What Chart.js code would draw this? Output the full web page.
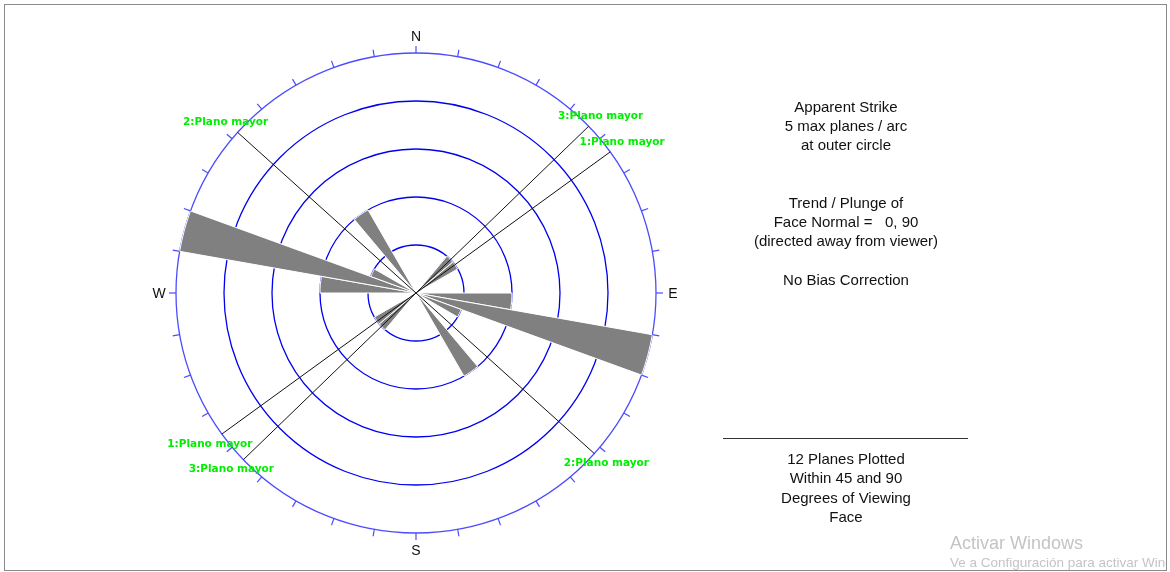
<!DOCTYPE html>
<html>
<head>
<meta charset="utf-8">
<script src="https://cdn.jsdelivr.net/npm/chart.js@4.4.1/dist/chart.umd.min.js"></script>
<style>
  html, body { margin: 0; padding: 0; background: #fff; }
  #wrap { position: relative; width: 1170px; height: 572px; overflow: hidden; background: #fff; }
  #rose { position: absolute; left: 0; top: 0; }
  #frame { position: absolute; left: 4px; top: 4px; width: 1163px; height: 567px; border: 1px solid #8a8a8a; box-sizing: border-box; overflow: hidden; pointer-events: none; }
  .info { position: absolute; left: 646px; width: 400px; text-align: center; font: 15px "Liberation Sans", Arial, sans-serif; color: #111; white-space: pre; }
  #info-top { top: 97px; line-height: 19.2px; }
  #info-bottom { top: 449px; line-height: 19.4px; }
  #rule { position: absolute; left: 723px; top: 438px; width: 245px; height: 0; border-top: 1px solid #333; }
  .wm { position: absolute; left: 945px; color: #c4c4c4; font-family: "Liberation Sans", Arial, sans-serif; white-space: nowrap; }
  #wm1 { top: 528px; font-size: 18px; }
  #wm2 { top: 550px; font-size: 13.5px; }
</style>
</head>
<body>
<div id="wrap">
  <canvas id="rose" width="1170" height="572"></canvas>
  <div class="info" id="info-top">Apparent Strike
5 max planes / arc
at outer circle


Trend / Plunge of
Face Normal =   0, 90
(directed away from viewer)

No Bias Correction</div>
  <div id="rule"></div>
  <div class="info" id="info-bottom">12 Planes Plotted
Within 45 and 90
Degrees of Viewing
Face</div>
  <div id="frame">
    <div class="wm" id="wm1">Activar Windows</div>
    <div class="wm" id="wm2">Ve a Configuración para activar Windows</div>
  </div>
</div>
<script>
// 10 degree strike bins, clockwise from north
const binLabels = [
  "0-10", "10-20", "20-30", "30-40", "40-50", "50-60", "60-70", "70-80", "80-90",
  "90-100", "100-110", "110-120", "120-130", "130-140", "140-150", "150-160", "160-170", "170-180",
  "180-190", "190-200", "200-210", "210-220", "220-230", "230-240", "240-250", "250-260", "260-270",
  "270-280", "280-290", "290-300", "300-310", "310-320", "320-330", "330-340", "340-350", "350-360"
];

// planes per bin (each strike counted both ways)
const planeCounts = [
  0, 0, 0, 0, 1, 1, 0, 0, 0,
  2, 5, 1, 0, 0, 2, 0, 0, 0,
  0, 0, 0, 0, 1, 1, 0, 0, 0,
  2, 5, 1, 0, 0, 2, 0, 0, 0
];

const maxPlanes = 5;

// major planes drawn as strike lines
const planeNames = ["1:Plano mayor", "2:Plano mayor", "3:Plano mayor"];
const planeStrikes = [54, 312, 46];

const compassLabels = ["N", "E", "S", "W"];
const compassBearings = [0, 90, 180, 270];
const tickStep = 10;

const degPerBin = 360 / binLabels.length;

const roseOverlay = {
  id: "roseOverlay",
  afterDatasetsDraw(chart) {
    const r = chart.scales.r;
    const ctx = chart.ctx;
    const outer = r.getDistanceFromCenterForValue(maxPlanes);
    const at = (bearing, dist) => r.getPointPosition(bearing / degPerBin, dist);

    ctx.save();

    // strike lines across the whole circle
    ctx.strokeStyle = "#111";
    ctx.lineWidth = 1;
    planeStrikes.forEach((s) => {
      const a = at(s, outer);
      const b = at(s + 180, outer);
      ctx.beginPath();
      ctx.moveTo(a.x, a.y);
      ctx.lineTo(b.x, b.y);
      ctx.stroke();
    });

    // ticks round the outer circle
    ctx.strokeStyle = "#4c4cff";
    ctx.lineWidth = 1.2;
    for (let deg = 0; deg < 360; deg += tickStep) {
      const p1 = at(deg, outer);
      const p2 = at(deg, outer + 7);
      ctx.beginPath();
      ctx.moveTo(p1.x, p1.y);
      ctx.lineTo(p2.x, p2.y);
      ctx.stroke();
    }

    // N / E / S / W
    ctx.fillStyle = "#111";
    ctx.font = '14px "Liberation Sans", Arial, sans-serif';
    ctx.textAlign = "center";
    ctx.textBaseline = "middle";
    compassBearings.forEach((b, i) => {
      const p = at(b, outer + 17);
      ctx.fillText(compassLabels[i], p.x, p.y + 1);
    });

    // plane names at both ends of each strike line
    ctx.fillStyle = "#00ee00";
    ctx.font = 'bold 10.5px "DejaVu Sans", sans-serif';
    planeStrikes.forEach((s, i) => {
      [s, s + 180].forEach((b) => {
        const p = at(b, outer);
        const sx = p.x < r.xCenter ? -12 : 12;
        const sy = p.y < r.yCenter ? -10 : 10;
        ctx.fillText(planeNames[i], p.x + sx, p.y + sy);
      });
    });

    ctx.restore();
  }
};

new Chart(document.getElementById("rose"), {
  type: "polarArea",
  data: {
    labels: binLabels,
    datasets: [
      {
        data: planeCounts,
        backgroundColor: "#808080",
        borderColor: "#ffffff",
        borderWidth: 1,
      },
    ],
  },
  options: {
    responsive: false,
    animation: false,
    layout: {
      padding: { left: 176, right: 513, top: 53, bottom: 38 },
    },
    plugins: {
      legend: { display: false },
      tooltip: { enabled: false },
    },
    scales: {
      r: {
        min: 0,
        max: maxPlanes,
        startAngle: 0,
        ticks: { display: false, stepSize: 1 },
        grid: {
          circular: true,
          lineWidth: 1.3,
          color: (c) => (c.tick && c.tick.value === maxPlanes ? "#4c4cff" : "#0000f0"),
        },
        angleLines: { display: false },
        pointLabels: { display: false },
      },
    },
  },
  plugins: [roseOverlay],
});
</script>
</body>
</html>
